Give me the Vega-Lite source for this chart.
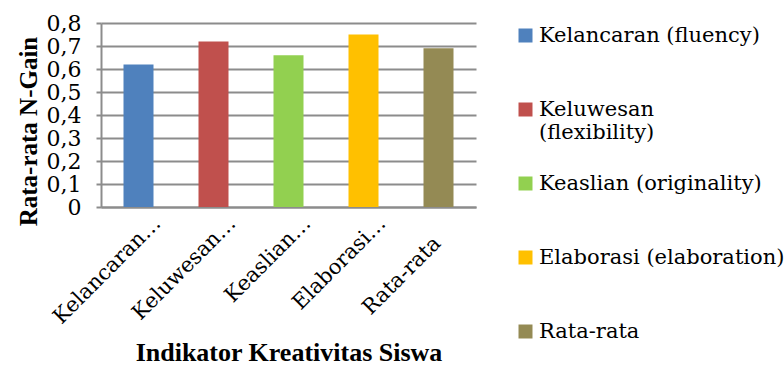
{
  "$schema": "https://vega.github.io/schema/vega-lite/v6.json",
  "autosize": {"type": "none"},
  "width": 375,
  "height": 184,
  "padding": {"left": 101, "top": 23, "right": 308, "bottom": 158},
  "background": "white",
  "data": {
    "values": [
      {"Indikator": "Kelancaran (fluency)", "NGain": 0.62},
      {"Indikator": "Keluwesan (flexibility)", "NGain": 0.72},
      {"Indikator": "Keaslian (originality)", "NGain": 0.66},
      {"Indikator": "Elaborasi (elaboration)", "NGain": 0.75},
      {"Indikator": "Rata-rata", "NGain": 0.69}
    ]
  },
  "mark": {"type": "bar", "size": 30},
  "encoding": {
    "x": {
      "field": "Indikator",
      "type": "nominal",
      "sort": null,
      "scale": {"paddingInner": 0.6, "paddingOuter": 0.3},
      "axis": {
        "title": "Indikator Kreativitas Siswa",
        "titleFont": "Liberation Serif",
        "titleFontSize": 26,
        "titleFontWeight": "bold",
        "titleColor": "#000",
        "titleBaseline": "alphabetic",
        "titleY": 153,
        "labelFont": "DejaVu Serif",
        "labelFontSize": 21,
        "labelColor": "#000",
        "labelAngle": -45,
        "labelAlign": "right",
        "labelBaseline": "middle",
        "labelPadding": {"condition": {"test": "datum.value == 'Rata-rata'", "value": 33}, "value": 13},
        "labelOffset": {"condition": {"test": "datum.value == 'Rata-rata'", "value": -1}, "value": 19},
        "labelLimit": 300,
        "labelOverlap": false,
        "labelExpr": "indexof(datum.label, ' ') > 0 ? split(datum.label, ' ')[0] + '…' : datum.label",
        "ticks": false,
        "domainColor": "#8c8c8c",
        "domainWidth": 2,
        "grid": false
      }
    },
    "y": {
      "field": "NGain",
      "type": "quantitative",
      "scale": {"domain": [0, 0.8], "nice": false},
      "axis": {
        "title": "Rata-rata N-Gain",
        "titleFont": "Liberation Serif",
        "titleFontSize": 25,
        "titleFontWeight": "bold",
        "titleColor": "#000",
        "titleBaseline": "middle",
        "titleX": -73,
        "titleY": 108,
        "values": [0, 0.1, 0.2, 0.3, 0.4, 0.5, 0.6, 0.7, 0.8],
        "labelExpr": "datum.value == 0 ? '0' : replace(format(datum.value, '.1f'), '.', ',')",
        "labelFont": "DejaVu Serif",
        "labelFontSize": 22,
        "labelColor": "#000",
        "labelPadding": 15,
        "labelOverlap": false,
        "tickSize": 5,
        "tickColor": "#8c8c8c",
        "tickWidth": 2,
        "domainColor": "#8c8c8c",
        "domainWidth": 2,
        "gridColor": "#8c8c8c",
        "gridWidth": 2
      }
    },
    "color": {
      "field": "Indikator",
      "type": "nominal",
      "sort": null,
      "scale": {
        "domain": ["Kelancaran (fluency)", "Keluwesan (flexibility)", "Keaslian (originality)", "Elaborasi (elaboration)", "Rata-rata"],
        "range": ["#4F81BD", "#C0504D", "#92D050", "#FFC000", "#948A54"]
      },
      "legend": {
        "title": null,
        "orient": "none",
        "legendX": 414,
        "legendY": 2,
        "symbolType": "square",
        "symbolSize": 196,
        "symbolStrokeWidth": 0,
        "labelFont": "DejaVu Serif",
        "labelFontSize": 21,
        "labelColor": "#000",
        "labelOffset": 3,
        "labelLimit": 400,
        "rowPadding": 29,
        "labelExpr": "datum.label == 'Keluwesan (flexibility)' ? ['Keluwesan', '(flexibility)'] : [datum.label, '']"
      }
    }
  },
  "config": {"view": {"stroke": null}}
}
